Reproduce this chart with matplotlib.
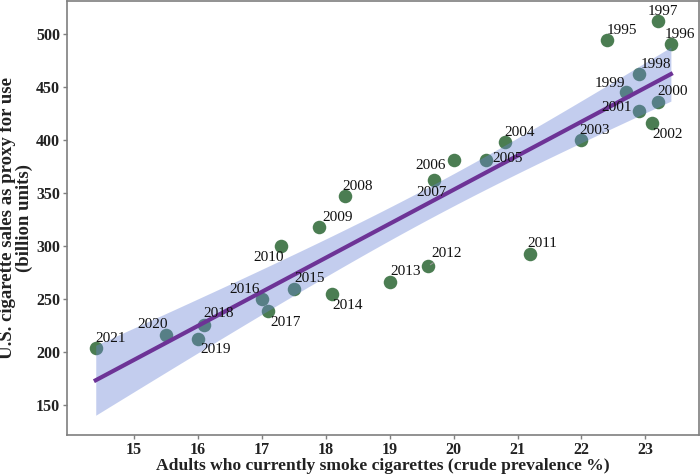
import matplotlib
matplotlib.use('Agg')
import matplotlib.pyplot as plt
import numpy as np

# data
years = [1995, 1996, 1997, 1998, 1999, 2000, 2001, 2002, 2003, 2004,
         2005, 2006, 2007, 2008, 2009, 2010, 2011, 2012, 2013, 2014,
         2015, 2016, 2017, 2018, 2019, 2020, 2021]
prevalence = [22.4, 23.4, 23.2, 22.9, 22.7, 23.2, 22.9, 23.1, 22.0, 20.8,
              20.5, 20.0, 19.7, 18.3, 17.9, 17.3, 21.2, 19.6, 19.0, 18.1,
              17.5, 17.0, 17.1, 16.1, 16.0, 15.5, 14.4]
sales = [494, 490, 512, 462, 445, 436, 427, 416, 400, 398,
         381, 381, 362, 347, 318, 300, 293, 281, 266, 255,
         260, 250, 239, 226, 213, 216, 204]

# label offsets in pixels (dx, dy), dy positive = up
offsets = {1995: (15, 10), 1996: (9, 10), 1997: (5, 10), 1998: (17, 10),
           1999: (-16, 9), 2000: (15, 10), 2001: (-22, 4), 2002: (16, -11),
           2003: (13, 10), 2004: (15, 10), 2005: (22, 2), 2006: (-23, -5),
           2007: (-3, -12), 2008: (13, 10), 2009: (18, 10), 2010: (-12, -11),
           2011: (12, 10), 2012: (19, 13), 2013: (16, 11), 2014: (15, -12),
           2015: (16, 10), 2016: (-17, 10), 2017: (17, -12), 2018: (14, 11),
           2019: (18, -11), 2020: (-13, 11), 2021: (15, 10)}

plt.rcParams['font.family'] = ['Liberation Serif', 'DejaVu Serif']

x = np.array(prevalence)
y = np.array(sales)
n = len(x)
slope, intercept = np.polyfit(x, y, 1)
resid = y - (slope * x + intercept)
s = np.sqrt(np.sum(resid ** 2) / (n - 2))
sxx = np.sum((x - x.mean()) ** 2)
t = 2.060  # t(0.975, df=25)
xs = np.linspace(x.min(), x.max(), 100)
fit = slope * xs + intercept
half = t * s * np.sqrt(1.0 / n + (xs - x.mean()) ** 2 / sxx)

fig = plt.figure(figsize=(7, 4.75), dpi=100)
ax = fig.add_axes([0.0957, 0.084, 0.9029, 0.914])

ax.scatter(x, y, s=95, color='#4b7d52', zorder=2, linewidths=0)
ax.fill_between(xs, fit - half, fit + half, color='#6b84d6', alpha=0.4,
                linewidth=0, zorder=3)
ax.plot(xs, fit, color='#6d3396', linewidth=3, zorder=4)

for yr, px, py in zip(years, prevalence, sales):
    dx, dy = offsets[yr]
    kw = {}
    if yr == 2012:
        kw['arrowprops'] = dict(arrowstyle='-', color='#999999', lw=0.8,
                                shrinkA=6, shrinkB=2)
    ax.annotate(str(yr), (px, py), xytext=(dx, dy), textcoords='offset pixels',
                ha='center', va='center', fontsize=11, color='#111111',
                zorder=5, **kw)

ax.set_xlim(13.95, 23.84)
ax.set_ylim(122, 531)
ax.set_xticks([15, 16, 17, 18, 19, 20, 21, 22, 23])
ax.set_yticks([150, 200, 250, 300, 350, 400, 450, 500])

for sp in ax.spines.values():
    sp.set_color('#7f7f7f')
    sp.set_linewidth(1.2)
ax.tick_params(length=3, width=1, color='#7f7f7f', labelsize=11.5,
               labelcolor='#222222', pad=2)
for lab in ax.get_xticklabels() + ax.get_yticklabels():
    lab.set_fontweight('bold')

ax.set_xlabel('Adults who currently smoke cigarettes (crude prevalence %)',
              fontsize=12.6, fontweight='bold', color='#222222', labelpad=0)
ax.set_ylabel('U.S. cigarette sales as proxy for use\n(billion units)',
              fontsize=13.5, fontweight='bold', color='#222222', labelpad=2,
              linespacing=0.95)

plt.savefig('out.png', dpi=100)
